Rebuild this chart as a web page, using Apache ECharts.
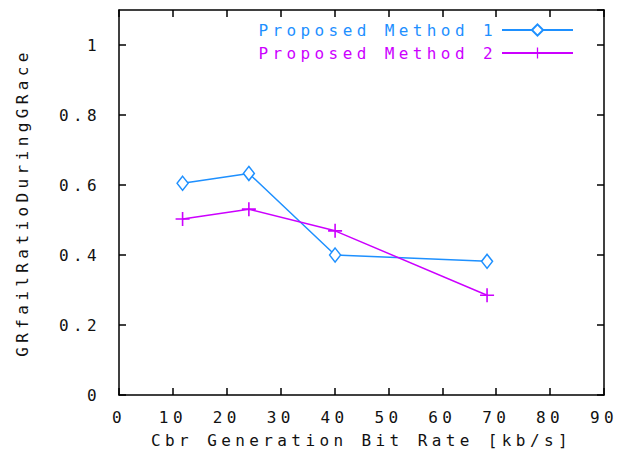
<!DOCTYPE html>
<html>
<head>
<meta charset="utf-8">
<script src="https://cdn.jsdelivr.net/npm/echarts@6/dist/echarts.min.js"></script>
<style>
html,body{margin:0;padding:0;background:#fff;}
#chart{width:625px;height:466px;}
#chart svg text{letter-spacing:4.4px;}
</style>
</head>
<body>
<div id="chart"></div>
<script>
var xValues1 = [11.8, 24.1, 40.1, 68.3];
var yValues1 = [0.605, 0.633, 0.400, 0.382];
var xValues2 = [11.8, 24.1, 40.1, 68.3];
var yValues2 = [0.503, 0.531, 0.469, 0.285];
var seriesNames = ['Proposed Method 1', 'Proposed Method 2'];
var seriesColors = ['#1e90ff', '#cc00ff'];
var xTitle = 'Cbr Generation Bit Rate [kb/s]';
var yTitle = 'GRfailRatioDuringGRace';

function pairs(xs, ys){ return xs.map(function(x,i){ return [x, ys[i]]; }); }

var font = 'DejaVu Sans Mono';
var txt = '#111';
var plusPath = 'path://M0,6.2L14,6.2L14,7.8L0,7.8Z M6.2,0L7.8,0L7.8,14L6.2,14Z';

var chart = echarts.init(document.getElementById('chart'), null, {renderer:'svg'});
var axisLineStyle = {color:'#000', width:1.5};
chart.setOption({
  animation:false,
  backgroundColor:'#fff',
  grid:{left:119, right:21, top:10, bottom:71, show:false},
  legend:{
    orient:'vertical', align:'right', right:51, top:22, padding:0,
    itemWidth:71, itemHeight:14, itemGap:7,
    textStyle:{fontFamily:font, fontSize:16},
    data:[
      {name:seriesNames[0], textStyle:{color:seriesColors[0]}},
      {name:seriesNames[1], textStyle:{color:seriesColors[1]}}
    ]
  },
  xAxis:[{
    type:'value', min:0, max:90, interval:10, position:'bottom',
    name:xTitle, nameLocation:'middle', nameGap:37,
    nameTextStyle:{fontFamily:font, fontSize:16, color:txt},
    axisLine:{show:true, lineStyle:axisLineStyle},
    axisTick:{show:true, inside:true, length:7, lineStyle:{color:'#000', width:1.5}},
    axisLabel:{fontFamily:font, fontSize:16, color:txt, margin:14},
    splitLine:{show:false}
  },{
    type:'value', min:0, max:90, interval:10, position:'top',
    axisLine:{show:true, onZero:false, lineStyle:axisLineStyle},
    axisTick:{show:true, inside:true, length:7, lineStyle:{color:'#000', width:1.5}},
    axisLabel:{show:false}, splitLine:{show:false}
  }],
  yAxis:[{
    type:'value', min:0, max:1.1, interval:0.2, position:'left',
    name:yTitle, nameLocation:'middle', nameGap:89, nameRotate:90,
    nameTextStyle:{fontFamily:font, fontSize:16, color:txt},
    axisLine:{show:true, lineStyle:axisLineStyle},
    axisTick:{show:true, inside:true, length:7, lineStyle:{color:'#000', width:1.5}},
    axisLabel:{fontFamily:font, fontSize:16, color:txt, margin:18,
      showMaxLabel:false,
      formatter:function(v){ return v>1.05 ? '' : String(Math.round(v*10)/10); }},
    splitLine:{show:false}
  },{
    type:'value', min:0, max:1.1, interval:0.2, position:'right',
    axisLine:{show:true, onZero:false, lineStyle:axisLineStyle},
    axisTick:{show:true, inside:true, length:7, lineStyle:{color:'#000', width:1.5}},
    axisLabel:{show:false}, splitLine:{show:false}
  }],
  series:[{
    name:seriesNames[0], type:'line', data:pairs(xValues1, yValues1),
    symbol:'diamond', symbolSize:[11,14], showAllSymbol:true,
    lineStyle:{color:seriesColors[0], width:1.5},
    itemStyle:{color:'#fff', borderColor:seriesColors[0], borderWidth:1.5}
  },{
    name:seriesNames[1], type:'line', data:pairs(xValues2, yValues2),
    symbol:plusPath, symbolSize:14, showAllSymbol:true,
    lineStyle:{color:seriesColors[1], width:1.5},
    itemStyle:{color:seriesColors[1]}
  }]
});
</script>
</body>
</html>
